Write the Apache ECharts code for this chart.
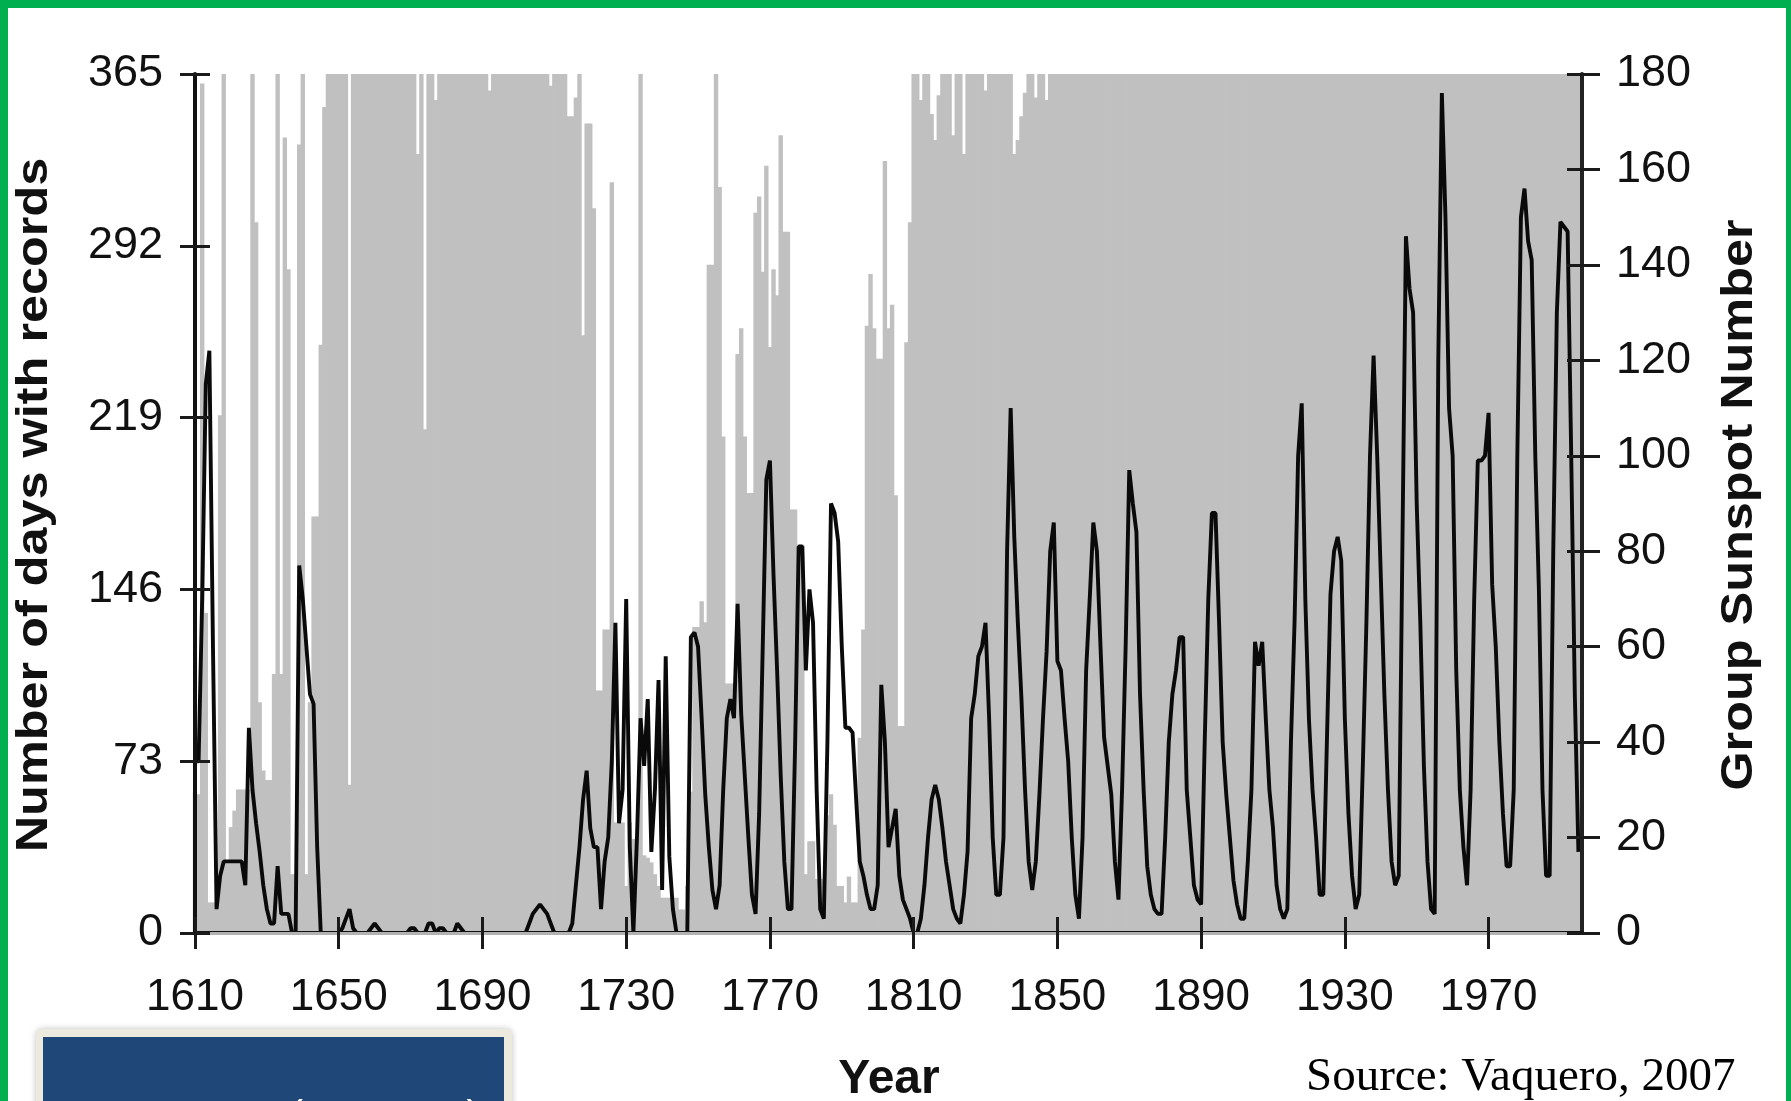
<!DOCTYPE html>
<html>
<head>
<meta charset="utf-8">
<title>Sunspot observations 1610-1995</title>
<script src="https://cdn.jsdelivr.net/npm/echarts@6/dist/echarts.min.js"></script>
<style>
  html, body { margin: 0; padding: 0; background: #ffffff; }
  #chart { position: absolute; left: 0; top: 0; width: 1791px; height: 1101px; }
  #frame {
    position: absolute; left: 0; top: 0; width: 1791px; height: 1101px;
    box-sizing: border-box; pointer-events: none;
    border-left: 8px solid #00b050; border-top: 8px solid #00b050; border-right: 5px solid #00b050;
  }
</style>
</head>
<body>
<div id="chart"></div>
<div id="frame"></div>
<script>
// First and last year of the record
const FIRST_YEAR = 1610;
const LAST_YEAR = 1995;

// Tick labels
const yearTicks = [1610, 1650, 1690, 1730, 1770, 1810, 1850, 1890, 1930, 1970];
const dayTicks = [0, 73, 146, 219, 292, 365];
const gsnTicks = [0, 20, 40, 60, 80, 100, 120, 140, 160, 180];

// Number of days per year with at least one observation record (one row per decade)
const daysWithRecords = [
  60, 59, 361, 136, 13, 13, 13, 220, 365, 31,          // 1610
  45, 52, 61, 61, 61, 61, 365, 302, 98, 69,            // 1620
  65, 65, 110, 365, 110, 338, 282, 25, 25, 335,        // 1630
  365, 25, 98, 177, 177, 250, 351, 365, 365, 365,      // 1640
  365, 365, 365, 63, 365, 365, 365, 365, 365, 365,     // 1650
  365, 365, 365, 365, 365, 365, 365, 365, 365, 365,    // 1660
  365, 365, 331, 365, 214, 365, 365, 354, 365, 365,    // 1670
  365, 365, 365, 365, 365, 365, 365, 365, 365, 365,    // 1680
  365, 365, 358, 365, 365, 365, 365, 365, 365, 365,    // 1690
  365, 365, 365, 365, 365, 365, 365, 365, 365, 360,    // 1700
  365, 365, 365, 365, 347, 347, 355, 365, 254, 344,    // 1710
  344, 308, 103, 103, 129, 129, 319, 47, 47, 47,       // 1720
  20, 47, 40, 40, 365, 33, 32, 30, 25, 20,             // 1730
  15, 15, 15, 15, 15, 10, 10, 20, 60, 130,             // 1740
  130, 141, 132, 284, 284, 365, 317, 211, 106, 106,    // 1750
  106, 246, 257, 211, 187, 187, 306, 313, 281, 326,    // 1760
  249, 282, 271, 339, 298, 298, 180, 180, 165, 165,    // 1770
  25, 39, 39, 23, 23, 23, 50, 59, 46, 20,              // 1780
  20, 13, 24, 13, 13, 83, 129, 258, 280, 257,          // 1790
  244, 244, 328, 257, 267, 186, 88, 88, 251, 302,      // 1800
  365, 365, 354, 365, 365, 348, 337, 356, 365, 365,    // 1810
  365, 339, 365, 365, 331, 365, 365, 365, 365, 365,    // 1820
  358, 365, 365, 365, 365, 365, 365, 365, 331, 337,    // 1830
  347, 357, 365, 365, 355, 365, 365, 354, 365, 365,    // 1840
  365, 365, 365, 365, 365, 365, 365, 365, 365, 365,    // 1850
  365, 365, 365, 365, 365, 365, 365, 365, 365, 365,    // 1860
  365, 365, 365, 365, 365, 365, 365, 365, 365, 365,    // 1870
  365, 365, 365, 365, 365, 365, 365, 365, 365, 365,    // 1880
  365, 365, 365, 365, 365, 365, 365, 365, 365, 365,    // 1890
  365, 365, 365, 365, 365, 365, 365, 365, 365, 365,    // 1900
  365, 365, 365, 365, 365, 365, 365, 365, 365, 365,    // 1910
  365, 365, 365, 365, 365, 365, 365, 365, 365, 365,    // 1920
  365, 365, 365, 365, 365, 365, 365, 365, 365, 365,    // 1930
  365, 365, 365, 365, 365, 365, 365, 365, 365, 365,    // 1940
  365, 365, 365, 365, 365, 365, 365, 365, 365, 365,    // 1950
  365, 365, 365, 365, 365, 365, 365, 365, 365, 365,    // 1960
  365, 365, 365, 365, 365, 365, 365, 365, 365, 365,    // 1970
  365, 365, 365, 365, 365, 365, 365, 365, 365, 365,    // 1980
  365, 365, 365, 365, 365, 365                         // 1990
];

// Yearly Group Sunspot Number (one row per decade)
const groupSunspotNumber = [
  36, 36, 70, 115, 122, 60, 5, 12, 15, 15,             // 1610
  15, 15, 15, 15, 10, 43, 30, 23, 17, 10,              // 1620
  5, 2, 2, 14, 4, 4, 4, 0, 0, 77,                      // 1630
  70, 60, 50, 48, 18, 0, 0, 0, 0, 0,                   // 1640
  0, 1, 3, 5, 1, 0, 0, 0, 0, 1,                        // 1650
  2, 1, 0, 0, 0, 0, 0, 0, 0, 0,                        // 1660
  1, 1, 0, 0, 0, 2, 2, 0, 1, 1,                        // 1670
  0, 0, 0, 2, 1, 0, 0, 0, 0, 0,                        // 1680
  0, 0, 0, 0, 0, 0, 0, 0, 0, 0,                        // 1690
  0, 0, 0, 2, 4, 5, 6, 5, 4, 2,                        // 1700
  0, 0, 0, 0, 0, 2, 10, 18, 28, 34,                    // 1710
  22, 18, 18, 5, 15, 20, 36, 65, 23, 30,               // 1720
  70, 18, 0, 20, 45, 35, 49, 17, 30, 53,               // 1730
  9, 58, 16, 5, 0, 0, 0, 0, 62, 63,                    // 1740
  60, 45, 29, 18, 9, 5, 10, 30, 45, 49,                // 1750
  45, 69, 46, 33, 20, 8, 4, 25, 60, 95,                // 1760
  99, 75, 55, 33, 15, 5, 5, 39, 81, 81,                // 1770
  55, 72, 65, 30, 5, 3, 40, 90, 88, 82,                // 1780
  60, 43, 43, 42, 28, 15, 12, 8, 5, 5,                 // 1790
  10, 52, 40, 18, 22, 26, 12, 7, 5, 3,                 // 1800
  0, 0, 3, 10, 20, 28, 31, 28, 22, 15,                 // 1810
  10, 5, 3, 2, 8, 17, 45, 50, 58, 60,                  // 1820
  65, 45, 20, 8, 8, 20, 80, 110, 83, 65,               // 1830
  49, 30, 15, 9, 15, 29, 45, 59, 80, 86,               // 1840
  57, 55, 45, 36, 20, 8, 3, 20, 55, 70,                // 1850
  86, 80, 60, 41, 35, 29, 15, 7, 30, 60,               // 1860
  97, 90, 84, 50, 30, 14, 8, 5, 4, 4,                  // 1870
  20, 40, 50, 55, 62, 62, 30, 20, 10, 7,               // 1880
  6, 40, 70, 88, 88, 65, 40, 29, 20, 11,               // 1890
  6, 3, 3, 15, 30, 61, 56, 61, 45, 30,                 // 1900
  22, 10, 5, 3, 5, 40, 65, 100, 111, 70,               // 1910
  45, 30, 20, 8, 8, 40, 71, 80, 83, 78,                // 1920
  45, 25, 12, 5, 8, 35, 65, 100, 121, 100,             // 1930
  75, 50, 30, 15, 10, 12, 80, 146, 135, 130,           // 1940
  90, 65, 35, 15, 5, 4, 120, 176, 150, 110,            // 1950
  100, 55, 30, 18, 10, 30, 70, 99, 99, 100,            // 1960
  109, 73, 60, 40, 25, 14, 14, 30, 100, 150,           // 1970
  156, 145, 141, 100, 72, 30, 12, 12, 80, 130,         // 1980
  149, 148, 147, 100, 50, 17                           // 1990
];

const years = daysWithRecords.map((_, i) => FIRST_YEAR + i);
const barData = years.map((y, i) => [y, daysWithRecords[i]]);
const lineData = years.map((y, i) => [y, groupSunspotNumber[i]]);

const FONT = '"Liberation Sans", Arial, Helvetica, sans-serif';
const INK = '#111111';
const tickStyle = { color: '#1a1a1a', width: 3 };

const chart = echarts.init(document.getElementById('chart'), null, { renderer: 'canvas' });

const baseX = {
  type: 'value', min: FIRST_YEAR, max: LAST_YEAR + 1,
  splitLine: { show: false }, z: 5
};

chart.setOption({
  animation: false,
  backgroundColor: '#ffffff',
  grid: { left: 195, top: 74, width: 1387, height: 859, show: false },
  xAxis: [
    Object.assign({}, baseX, {
      position: 'bottom',
      axisLine: { show: true, lineStyle: { color: INK, width: 4 } },
      axisTick: { show: true, inside: false, length: 16, customValues: yearTicks, lineStyle: tickStyle },
      axisLabel: {
        show: true, customValues: yearTicks, margin: 43,
        fontSize: 44, fontFamily: FONT, color: INK,
        formatter: v => String(v)
      }
    }),
    Object.assign({}, baseX, {
      position: 'bottom',
      axisLine: { show: false },
      axisTick: { show: true, inside: true, length: 16, customValues: yearTicks, lineStyle: tickStyle },
      axisLabel: { show: false }
    }),
    Object.assign({}, baseX, {
      position: 'top',
      axisLine: { show: true, lineStyle: { color: '#b2b2b2', width: 3 } },
      axisTick: { show: false },
      axisLabel: { show: false }
    })
  ],
  yAxis: [
    {
      type: 'value', position: 'left', min: 0, max: 365, interval: 73,
      axisLine: { show: true, lineStyle: { color: INK, width: 4 } },
      axisTick: { show: true, inside: false, length: 15, lineStyle: tickStyle },
      axisLabel: { margin: 32, fontSize: 45, fontFamily: FONT, color: INK, padding: [6, 0, 0, 0] },
      splitLine: { show: false }, z: 5
    },
    {
      type: 'value', position: 'right', min: 0, max: 180, interval: 20,
      axisLine: { show: true, lineStyle: { color: '#222222', width: 4 } },
      axisTick: { show: true, inside: false, length: 18, lineStyle: tickStyle },
      axisLabel: { margin: 34, fontSize: 45, fontFamily: FONT, color: INK, padding: [6, 0, 0, 0] },
      splitLine: { show: false }, z: 5
    },
    {
      type: 'value', position: 'left', min: 0, max: 365, interval: 73,
      axisLine: { show: false },
      axisTick: { show: true, inside: true, length: 15, lineStyle: tickStyle },
      axisLabel: { show: false }, splitLine: { show: false }, z: 5
    },
    {
      type: 'value', position: 'right', min: 0, max: 180, interval: 20,
      axisLine: { show: false },
      axisTick: { show: true, inside: true, length: 15, lineStyle: tickStyle },
      axisLabel: { show: false }, splitLine: { show: false }, z: 5
    }
  ],
  series: [
    {
      name: 'Number of days with records',
      type: 'bar', xAxisIndex: 0, yAxisIndex: 0,
      data: barData, barWidth: 4.4,
      itemStyle: { color: '#c0c0c0' },
      silent: true, z: 1
    },
    {
      name: 'Group Sunspot Number',
      type: 'line', xAxisIndex: 0, yAxisIndex: 1,
      data: lineData, symbol: 'none', showSymbol: false,
      lineStyle: { color: '#0a0a0a', width: 3.9 },
      silent: true, z: 3
    }
  ],
  graphic: [
    {
      type: 'text', x: 35, y: 505, rotation: Math.PI / 2, scaleX: 1.12,
      style: { text: 'Number of days with records', font: 'bold 45px ' + FONT, fill: INK, align: 'center', verticalAlign: 'middle' }
    },
    {
      type: 'text', x: 1740, y: 505, rotation: Math.PI / 2, scaleX: 1.12,
      style: { text: 'Group Sunspot Number', font: 'bold 45px ' + FONT, fill: INK, align: 'center', verticalAlign: 'middle' }
    },
    {
      type: 'text', x: 889, y: 1080,
      style: { text: 'Year', font: 'bold 48px ' + FONT, fill: INK, align: 'center', verticalAlign: 'middle' }
    },
    {
      type: 'text', x: 1306, y: 1078,
      style: { text: 'Source: Vaquero, 2007', font: '47px "Liberation Serif", "Times New Roman", serif', fill: '#000000', align: 'left', verticalAlign: 'middle' }
    },
    {
      type: 'rect', shape: { x: 36, y: 1029, width: 476, height: 100, r: 6 },
      style: { fill: '#ece9df', shadowBlur: 6, shadowColor: 'rgba(0,0,0,0.25)' }
    },
    {
      type: 'rect', shape: { x: 43, y: 1037, width: 461, height: 90 },
      style: { fill: '#1f4878' }
    },
    {
      type: 'text', x: 58, y: 1097,
      style: { text: 'SGW 12-06 (AGU FM)', font: '42px ' + FONT, fill: '#ffffff', align: 'left', verticalAlign: 'top' }
    }
  ]
});
</script>
</body>
</html>
